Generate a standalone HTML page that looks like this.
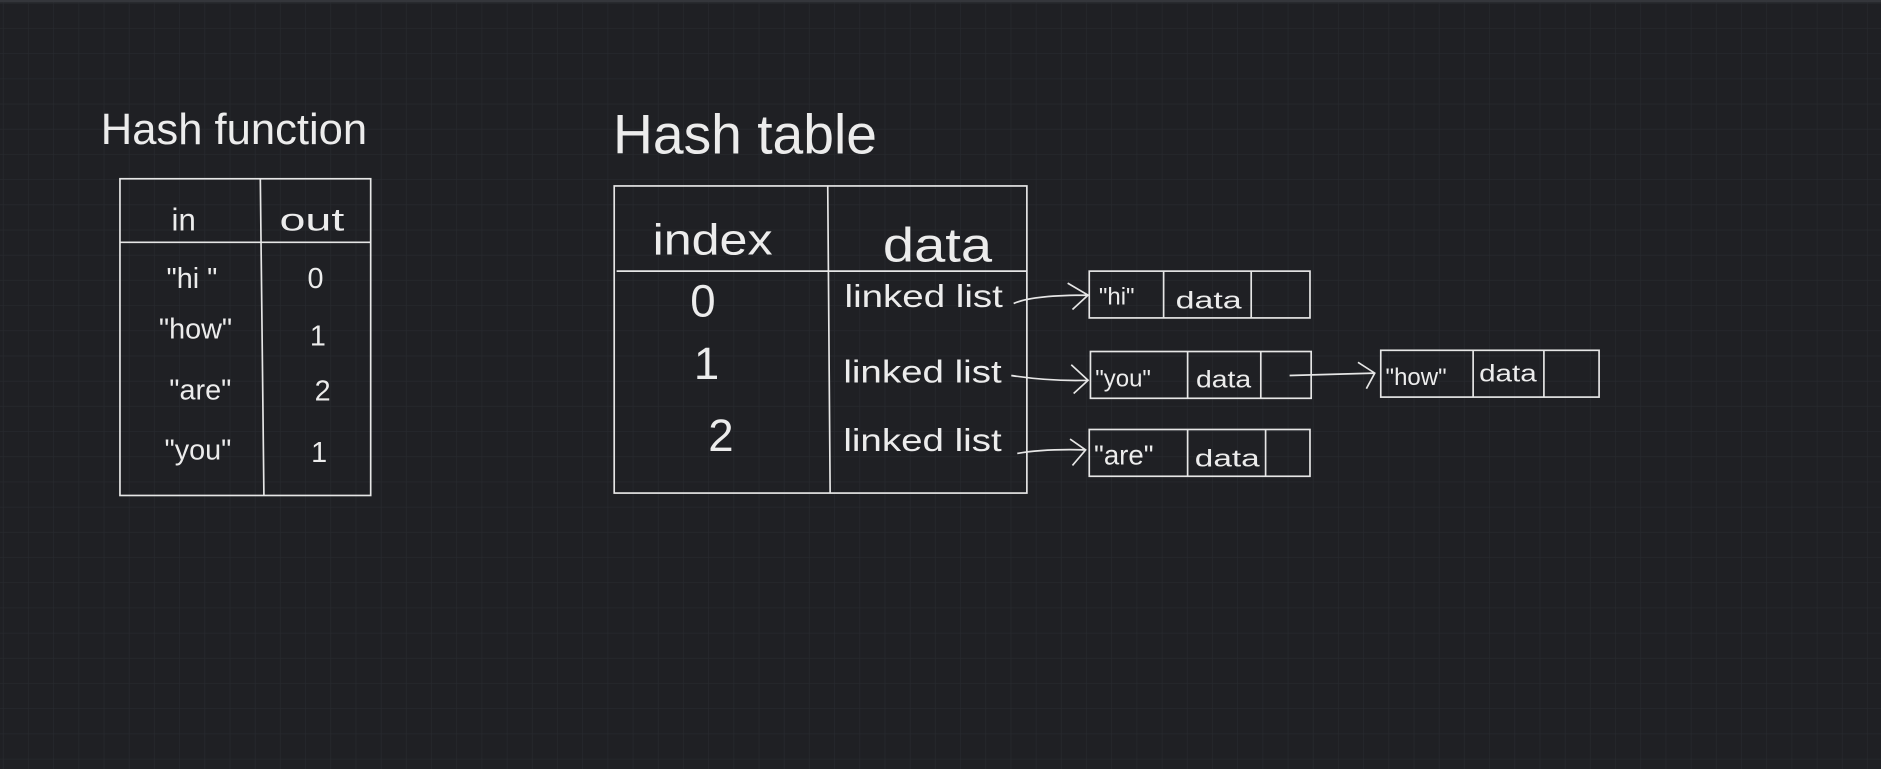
<!DOCTYPE html>
<html><head><meta charset="utf-8"><style>
html,body{margin:0;padding:0;background:#1f2024;}
svg{display:block}
text{font-family:"Liberation Sans",sans-serif;fill:#ececec;}
</style></head><body>
<svg width="1881" height="769" viewBox="0 0 1568 641" preserveAspectRatio="none" xmlns="http://www.w3.org/2000/svg">
<defs>
<pattern id="g" width="21" height="21" patternUnits="userSpaceOnUse" x="3" y="3">
<path d="M21 0V21M0 21H21" stroke="#282a2f" stroke-width="1" fill="none"/>
</pattern>
</defs>
<rect width="1568" height="641" fill="#1f2024"/>
<rect width="1568" height="641" fill="url(#g)"/>
<rect width="1568" height="2" fill="#34363b"/>
<g fill="none" stroke="#e6e6e6" stroke-width="1.4">
<rect x="100" y="149" width="209" height="264"/>
<path d="M217 149L220 413M100 202H309"/>
<rect x="512" y="155" width="344" height="256"/>
<path d="M690 155L692 411M514 226H856"/>
<rect x="908" y="226" width="184" height="39"/>
<path d="M970 226V265M1043 226V265"/>
<rect x="909" y="293" width="184" height="39"/>
<path d="M990 293V332M1051 293V332"/>
<rect x="908" y="358" width="184" height="39"/>
<path d="M990 358V397M1055 358V397"/>
<rect x="1151" y="292" width="182" height="39"/>
<path d="M1228 292V331M1287 292V331"/>
<path d="M845 253Q860 246 907 246M890 236L907 246L894 258"/>
<path d="M843 313Q875 318 907 317M893 304L907 317L895 328"/>
<path d="M848 378Q870 374 905 375M892 366L905 375L894 388"/>
<path d="M1075 313L1146 311M1132 302L1146 311L1139 324"/>
</g>
<text x="84" y="120" font-size="36" textLength="222" lengthAdjust="spacingAndGlyphs">Hash function</text>
<text x="511" y="128" font-size="46" textLength="220" lengthAdjust="spacingAndGlyphs">Hash table</text>
<g font-size="26">
<text x="143" y="192">in</text>
<text x="233" y="192" textLength="54" lengthAdjust="spacingAndGlyphs">out</text>
</g>
<g font-size="24" text-anchor="middle">
<text x="160" y="240">"hi "</text>
<text x="163" y="282">"how"</text>
<text x="167" y="333">"are"</text>
<text x="165" y="383">"you"</text>
<text x="263" y="240">0</text>
<text x="265" y="288">1</text>
<text x="269" y="334">2</text>
<text x="266" y="385">1</text>
</g>
<text x="544" y="212" font-size="36" textLength="100" lengthAdjust="spacingAndGlyphs">index</text>
<text x="736" y="218" font-size="40" textLength="91" lengthAdjust="spacingAndGlyphs">data</text>
<g font-size="38" text-anchor="middle">
<text x="586" y="264">0</text>
<text x="589" y="316">1</text>
<text x="601" y="376">2</text>
</g>
<g font-size="26">
<text x="704" y="256" textLength="132" lengthAdjust="spacingAndGlyphs">linked list</text>
<text x="703" y="319" textLength="132" lengthAdjust="spacingAndGlyphs">linked list</text>
<text x="703" y="376" textLength="132" lengthAdjust="spacingAndGlyphs">linked list</text>
</g>
<g font-size="20">
<text x="916" y="254">"hi"</text>
<text x="980" y="257" textLength="55" lengthAdjust="spacingAndGlyphs">data</text>
<text x="913" y="322">"you"</text>
<text x="997" y="323" textLength="46" lengthAdjust="spacingAndGlyphs">data</text>
<text x="912" y="387" font-size="23">"are"</text>
<text x="996" y="389" textLength="54" lengthAdjust="spacingAndGlyphs">data</text>
<text x="1155" y="321">"how"</text>
<text x="1233" y="318" textLength="48" lengthAdjust="spacingAndGlyphs">data</text>
</g>
</svg>
</body></html>
